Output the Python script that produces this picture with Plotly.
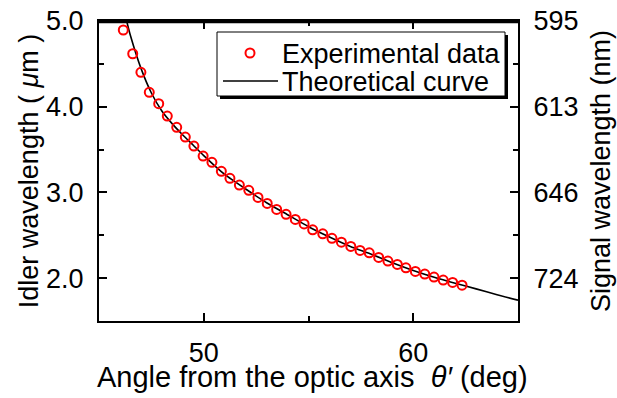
import plotly.graph_objects as go

# Experimental data (angle in deg, idler wavelength in um)
exp_angle = [46.16, 46.61, 47.00, 47.40, 47.85, 48.26, 48.71, 49.12, 49.53, 49.97,
             50.39, 50.84, 51.25, 51.70, 52.15, 52.59, 53.03, 53.48, 53.93, 54.37,
             54.79, 55.20, 55.68, 56.12, 56.57, 57.02, 57.46, 57.90, 58.35, 58.79,
             59.24, 59.65, 60.10, 60.55, 60.99, 61.43, 61.88, 62.33]
exp_idler = [4.895, 4.618, 4.401, 4.168, 4.035, 3.891, 3.759, 3.646, 3.541, 3.424,
             3.351, 3.246, 3.164, 3.086, 3.024, 2.942, 2.872, 2.802, 2.744, 2.685,
             2.633, 2.564, 2.517, 2.464, 2.420, 2.370, 2.323, 2.295, 2.242, 2.199,
             2.160, 2.120, 2.078, 2.047, 2.012, 1.977, 1.950, 1.918]

# Theoretical curve
th_angle = [46.32, 46.5, 47.0, 47.5, 48.0, 48.5, 49.0, 49.5, 50.0, 51.0, 52.0, 53.0,
            54.0, 55.0, 56.0, 57.0, 58.0, 59.0, 60.0, 61.0, 62.0, 63.0, 64.0, 65.0]
th_idler = [5.00, 4.83, 4.45, 4.16, 3.95, 3.80, 3.67, 3.55, 3.43, 3.21, 3.04, 2.88,
            2.74, 2.60, 2.48, 2.37, 2.28, 2.18, 2.09, 2.01, 1.94, 1.875, 1.806, 1.743]

idler_ticks = [2.0, 3.0, 4.0, 5.0]
idler_ticktext = ["2.0", "3.0", "4.0", "5.0"]
signal_ticktext = ["724", "646", "613", "595"]
x_ticks = [50, 60]
legend_labels = ["Experimental data", "Theoretical curve"]
x_title = "Angle from the optic axis  <i>θ′</i> (deg)"

FONT = "Liberation Sans, Arial, sans-serif"
RED = "#ff0000"

fig = go.Figure()
fig.add_trace(go.Scatter(
    x=th_angle, y=th_idler, mode="lines", name=legend_labels[1],
    line=dict(color="black", width=1.6, shape="spline", smoothing=0.6),
    showlegend=False,
))
fig.add_trace(go.Scatter(
    x=exp_angle, y=exp_idler, mode="markers", name=legend_labels[0],
    marker=dict(symbol="circle-open", size=9, color=RED,
                line=dict(width=2, color=RED)),
    showlegend=False,
))
# invisible trace to activate the top and right axes
fig.add_trace(go.Scatter(
    x=th_angle, y=th_idler, mode="lines", xaxis="x2", yaxis="y2", showlegend=False,
    line=dict(color="rgba(0,0,0,0)", width=0), hoverinfo="skip",
))

axis_common = dict(
    showline=True, linecolor="black", linewidth=2,
    ticks="inside", ticklen=8, tickwidth=2, tickcolor="black",
    showgrid=False, zeroline=False, automargin=False,
    ticklabeloverflow="allow",
    tickfont=dict(family=FONT, size=27, color="black"),
)
minor_common = dict(ticks="inside", ticklen=5, tickwidth=2, tickcolor="black")

W, H = 617, 398
# plot area in page pixels: x 99..518, y 21..321
L, R, T, B = 99, 518, 21, 321
def px(xp):
    return (xp - L) / (R - L)
def py(yp):
    return (B - yp) / (B - T)

shapes = [
    # top frame line
    dict(type="line", xref="paper", yref="paper", x0=0, x1=1, y0=py(22), y1=py(22),
         line=dict(color="black", width=2.5), layer="above"),
    # legend shadow
    dict(type="rect", xref="paper", yref="paper",
         x0=px(220), x1=px(508), y0=py(99), y1=py(35),
         fillcolor="black", line=dict(width=0), layer="above"),
    # legend box
    dict(type="rect", xref="paper", yref="paper",
         x0=px(217), x1=px(505), y0=py(96), y1=py(32),
         fillcolor="white", line=dict(color="black", width=1), layer="above"),
    # marker sample
    dict(type="circle", xref="paper", yref="paper",
         x0=px(245.5), x1=px(254.5), y0=py(57.5), y1=py(48.5),
         line=dict(color=RED, width=2), fillcolor="rgba(0,0,0,0)", layer="above"),
    # line sample
    dict(type="line", xref="paper", yref="paper",
         x0=px(223), x1=px(278), y0=py(81), y1=py(81),
         line=dict(color="black", width=1.6), layer="above"),
]
annotations = [
    dict(text=legend_labels[0], xref="paper", yref="paper", x=px(280), y=py(54),
         xanchor="left", yanchor="middle", showarrow=False,
         font=dict(family=FONT, size=27, color="black")),
    dict(text=legend_labels[1], xref="paper", yref="paper", x=px(280), y=py(82),
         xanchor="left", yanchor="middle", showarrow=False,
         font=dict(family=FONT, size=27, color="black")),
    dict(text=x_title, xref="paper", yref="paper", x=px(312), y=py(377),
         xanchor="center", yanchor="middle", showarrow=False,
         font=dict(family=FONT, size=29, color="black")),
]

fig.update_layout(
    width=W, height=H,
    margin=dict(l=L, r=W - R, t=T, b=H - B),
    plot_bgcolor="white", paper_bgcolor="white",
    font=dict(family=FONT, color="black"),
    showlegend=False,
    shapes=shapes, annotations=annotations,
    xaxis=dict(
        range=[45, 65], tickvals=x_ticks,
        minor=dict(dtick=5, tick0=45, **minor_common),
        ticklabelstandoff=7,
        **axis_common,
    ),
    xaxis2=dict(
        range=[45, 65], tickvals=x_ticks, overlaying="x", side="top",
        minor=dict(dtick=5, tick0=45, **minor_common),
        showticklabels=False,
        **axis_common,
    ),
    yaxis=dict(
        range=[1.5, 5.0], tickvals=idler_ticks, ticktext=idler_ticktext,
        minor=dict(dtick=0.5, tick0=1.5, **minor_common),
        ticklabelstandoff=8,
        title=dict(text="Idler wavelength ( <i>μ</i>m )",
                   font=dict(family=FONT, size=27), standoff=0),
        **axis_common,
    ),
    yaxis2=dict(
        range=[1.5, 5.0], overlaying="y", side="right",
        tickvals=idler_ticks, ticktext=signal_ticktext,
        minor=dict(dtick=0.5, tick0=1.5, **minor_common),
        ticklabelstandoff=8,
        title=dict(text="Signal wavelength (nm)",
                   font=dict(family=FONT, size=27), standoff=14),
        **axis_common,
    ),
)

fig.write_html("out.html", config={"displayModeBar": False},
               post_script="document.body.style.margin='0';")
